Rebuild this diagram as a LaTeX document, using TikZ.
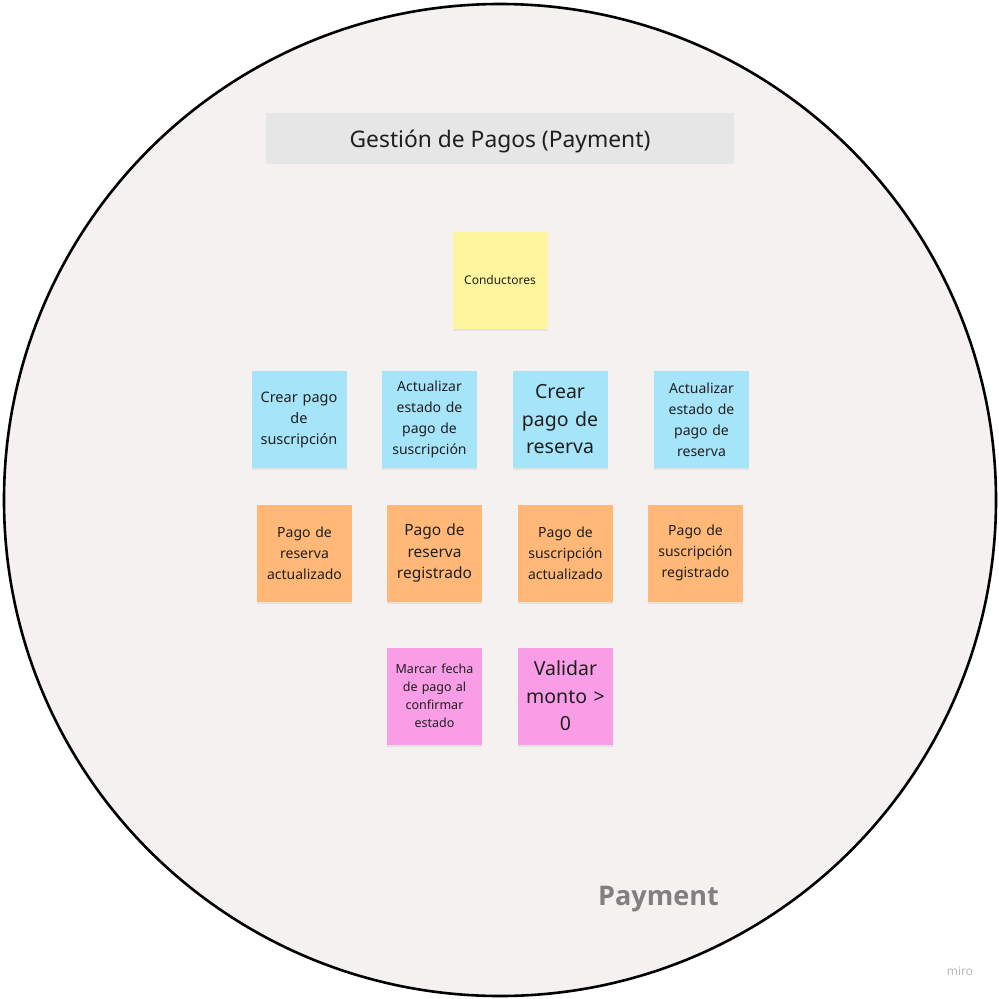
\documentclass[tikz,border=0pt]{standalone}
\usepackage{fontspec}
\setmainfont{Noto Sans}
\newfontfamily\zonefont{Open Sans}
\usepackage{tikz}
\usetikzlibrary{shadows}
\definecolor{zonebg}{HTML}{F4F1F0}
\definecolor{titlebg}{HTML}{E6E6E6}
\definecolor{actorcol}{HTML}{FFF59E}
\definecolor{cmdcol}{HTML}{A6E4FA}
\definecolor{evtcol}{HTML}{FFB878}
\definecolor{polcol}{HTML}{F99DE6}
\definecolor{inkcol}{HTML}{1F1F1F}

\begin{document}
\begin{tikzpicture}[x=1pt,y=-1pt,
    sticky/.style={rectangle,minimum width=95,minimum height=97,text width=88,
      align=center,inner sep=2,text=inkcol,
      drop shadow={shadow xshift=0pt,shadow yshift=-2pt,opacity=0.12}},
    fs/.style 2 args={font=\fontsize{#1}{#2}\selectfont}]
      \useasboundingbox (0,0) rectangle (999,999);
      \draw[line width=2.6pt,fill=zonebg] (500,500) circle (496);
      \node[fill=titlebg,minimum width=468,minimum height=51,inner sep=0,
            font=\fontsize{22.8}{26}\selectfont,text=inkcol] (title) at (500,138.5) {};
      \node[font=\fontsize{22.8}{26}\selectfont,text=inkcol] (titletext) at (500,142) {Gestión de Pagos (Payment)};
      % actor
      \node[sticky,fill=actorcol,fs={12}{17}] (conductores) at (500,280) {Conductores};
      % comandos
      \node[sticky,fill=cmdcol,fs={14.5}{21}] (crearSus) at (299,419.5) {Crear pago\\de\\suscripción};
      \node[sticky,fill=cmdcol,fs={14}{21}] (actSus) at (429.5,419.5) {Actualizar\\estado de\\pago de\\suscripción};
      \node[sticky,fill=cmdcol,fs={19.5}{27.5}] (crearRes) at (560,419.5) {Crear\\pago de\\reserva};
      \node[sticky,fill=cmdcol,fs={14}{21}] (actRes) at (701.5,419.5) {Actualizar\\estado de\\pago de\\reserva};
      % eventos
      \node[sticky,fill=evtcol,fs={14}{21}] (resAct) at (304.5,553) {Pago de\\reserva\\actualizado};
      \node[sticky,fill=evtcol,fs={15.5}{21.5}] (resReg) at (434.5,553) {Pago de\\reserva\\registrado};
      \node[sticky,fill=evtcol,fs={14}{21}] (susAct) at (565.5,553) {Pago de\\suscripción\\actualizado};
      \node[sticky,fill=evtcol,fs={14}{21}] (susReg) at (695.5,553) {Pago de\\suscripción\\registrado};
      % politicas
      \node[sticky,fill=polcol,fs={12.5}{18}] (marcar) at (434.5,696) {Marcar fecha\\de pago al\\confirmar\\estado};
      \node[sticky,fill=polcol,fs={19.5}{27.5}] (validar) at (565.5,696) {Validar\\monto >\\0};
      % etiquetas
      \node[text=black!50,font=\zonefont\bfseries\fontsize{27}{30}\selectfont] (zona) at (658.5,899) {Payment};
      \node[text=black!28,font=\fontsize{12}{14}\selectfont] (miro) at (960,971) {miro};
    \end{tikzpicture}
\end{document}
